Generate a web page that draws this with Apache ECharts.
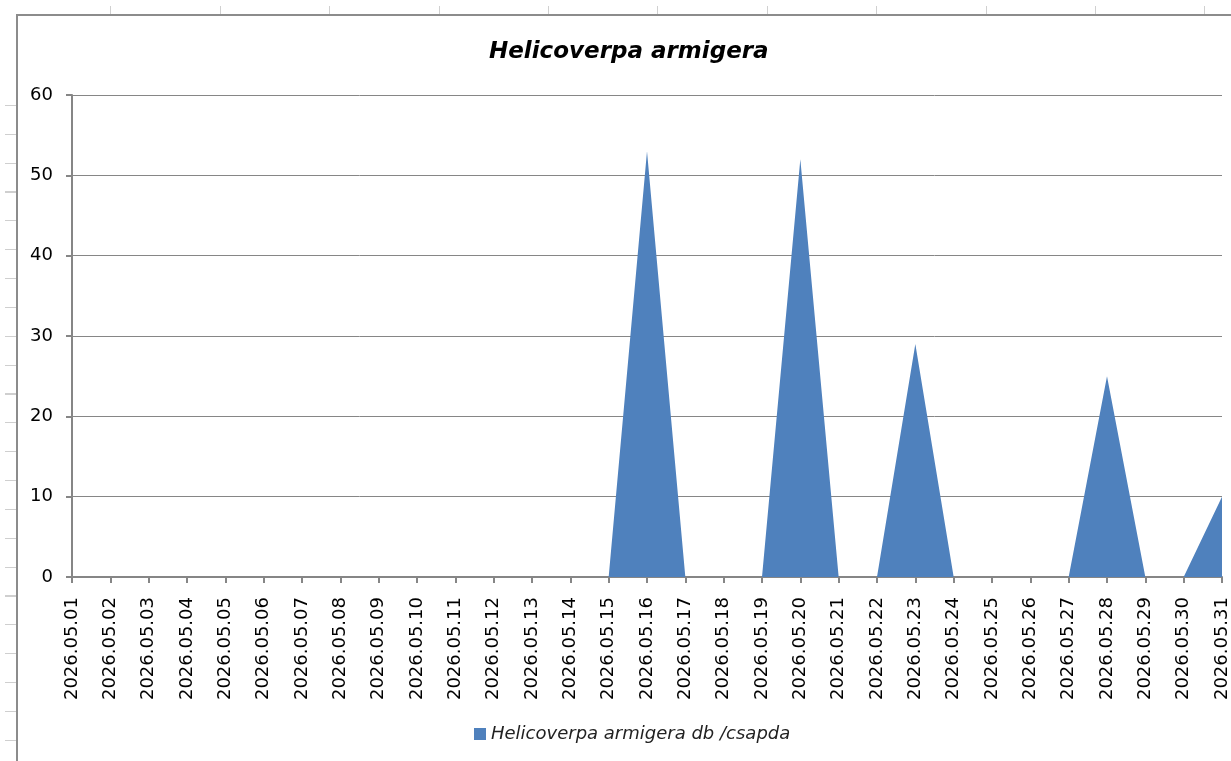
<!DOCTYPE html>
<html>
<head>
<meta charset="utf-8">
<script src="https://cdn.jsdelivr.net/npm/echarts@6/dist/echarts.min.js"></script>
<style>
  html, body { margin: 0; padding: 0; background: #fff; overflow: hidden; }
  /* spreadsheet cell lines peeking around the chart object */
  #rows {
    position: absolute; left: 5px; top: 90px; width: 11px; height: 680px;
    background: repeating-linear-gradient(to bottom, transparent 0, transparent 14.86px, #cfcfcf 14.86px, #cfcfcf 16px, transparent 16px, transparent 28.86px);
  }
  #cols {
    position: absolute; left: 2px; top: 6px; width: 1240px; height: 9px;
    background: repeating-linear-gradient(to right, transparent 0, transparent 108.4px, #d0d0d0 108.4px, #d0d0d0 109.4px, transparent 109.4px, transparent 108.4px);
  }
  #frame {
    position: absolute; left: 16px; top: 14px; width: 1300px; height: 800px;
    border-left: 2px solid #8c8c8c; border-top: 2px solid #8c8c8c;
  }
  #main { position: absolute; left: 0; top: 0; width: 1231px; height: 761px; }
</style>
</head>
<body>
<div id="rows"></div>
<div id="cols"></div>
<div id="frame"></div>
<div id="main"></div>
<script>
// napi csapdafogás, 2026 május
const days = [
  '2026.05.01', '2026.05.02', '2026.05.03', '2026.05.04', '2026.05.05', '2026.05.06',
  '2026.05.07', '2026.05.08', '2026.05.09', '2026.05.10', '2026.05.11', '2026.05.12',
  '2026.05.13', '2026.05.14', '2026.05.15', '2026.05.16', '2026.05.17', '2026.05.18',
  '2026.05.19', '2026.05.20', '2026.05.21', '2026.05.22', '2026.05.23', '2026.05.24',
  '2026.05.25', '2026.05.26', '2026.05.27', '2026.05.28', '2026.05.29', '2026.05.30',
  '2026.05.31'
];
const catches = [
  0, 0, 0, 0, 0, 0,
  0, 0, 0, 0, 0, 0,
  0, 0, 0, 53, 0, 0,
  0, 52, 0, 0, 29, 0,
  0, 0, 0, 25, 0, 0,
  10
];
const seriesName = 'Helicoverpa armigera db /csapda';

const chart = echarts.init(document.getElementById('main'));

const option = {
  animation: false,
  title: {
    text: 'Helicoverpa armigera',
    left: 484,
    top: 36,
    textStyle: {
      fontFamily: 'DejaVu Sans',
      fontSize: 23,
      fontWeight: 'bold',
      fontStyle: 'italic',
      color: '#000'
    }
  },
  legend: {
    top: 720,
    left: 469,
    itemWidth: 12,
    itemHeight: 12,
    itemGap: 5,
    icon: 'rect',
    textStyle: {
      fontFamily: 'DejaVu Sans',
      fontSize: 18,
      fontStyle: 'italic',
      color: '#222'
    }
  },
  grid: { left: 72, right: 9, top: 95, bottom: 184 },
  xAxis: {
    type: 'category',
    data: days,
    boundaryGap: false,
    axisLine: { lineStyle: { color: '#868686', width: 2 } },
    axisTick: { show: true, length: 6, lineStyle: { color: '#868686', width: 2 }, alignWithLabel: true },
    axisLabel: {
      rotate: 90,
      interval: 0,
      margin: 20,
      fontFamily: 'DejaVu Sans',
      fontSize: 18,
      color: '#000'
    },
    splitLine: { show: false }
  },
  yAxis: {
    type: 'value',
    min: 0,
    max: 60,
    interval: 10,
    axisLine: { show: true, lineStyle: { color: '#868686', width: 2 } },
    axisTick: { show: true, length: 6, lineStyle: { color: '#868686', width: 2 } },
    axisLabel: {
      margin: 19,
      fontFamily: 'DejaVu Sans',
      fontSize: 18,
      color: '#000'
    },
    splitLine: { lineStyle: { color: '#868686', width: 1 } }
  },
  series: [{
    name: seriesName,
    type: 'line',
    data: catches,
    symbol: 'none',
    lineStyle: { width: 0 },
    itemStyle: { color: '#4f81bd' },
    areaStyle: { color: '#4f81bd', opacity: 1 }
  }]
};

chart.setOption(option);
</script>
</body>
</html>
